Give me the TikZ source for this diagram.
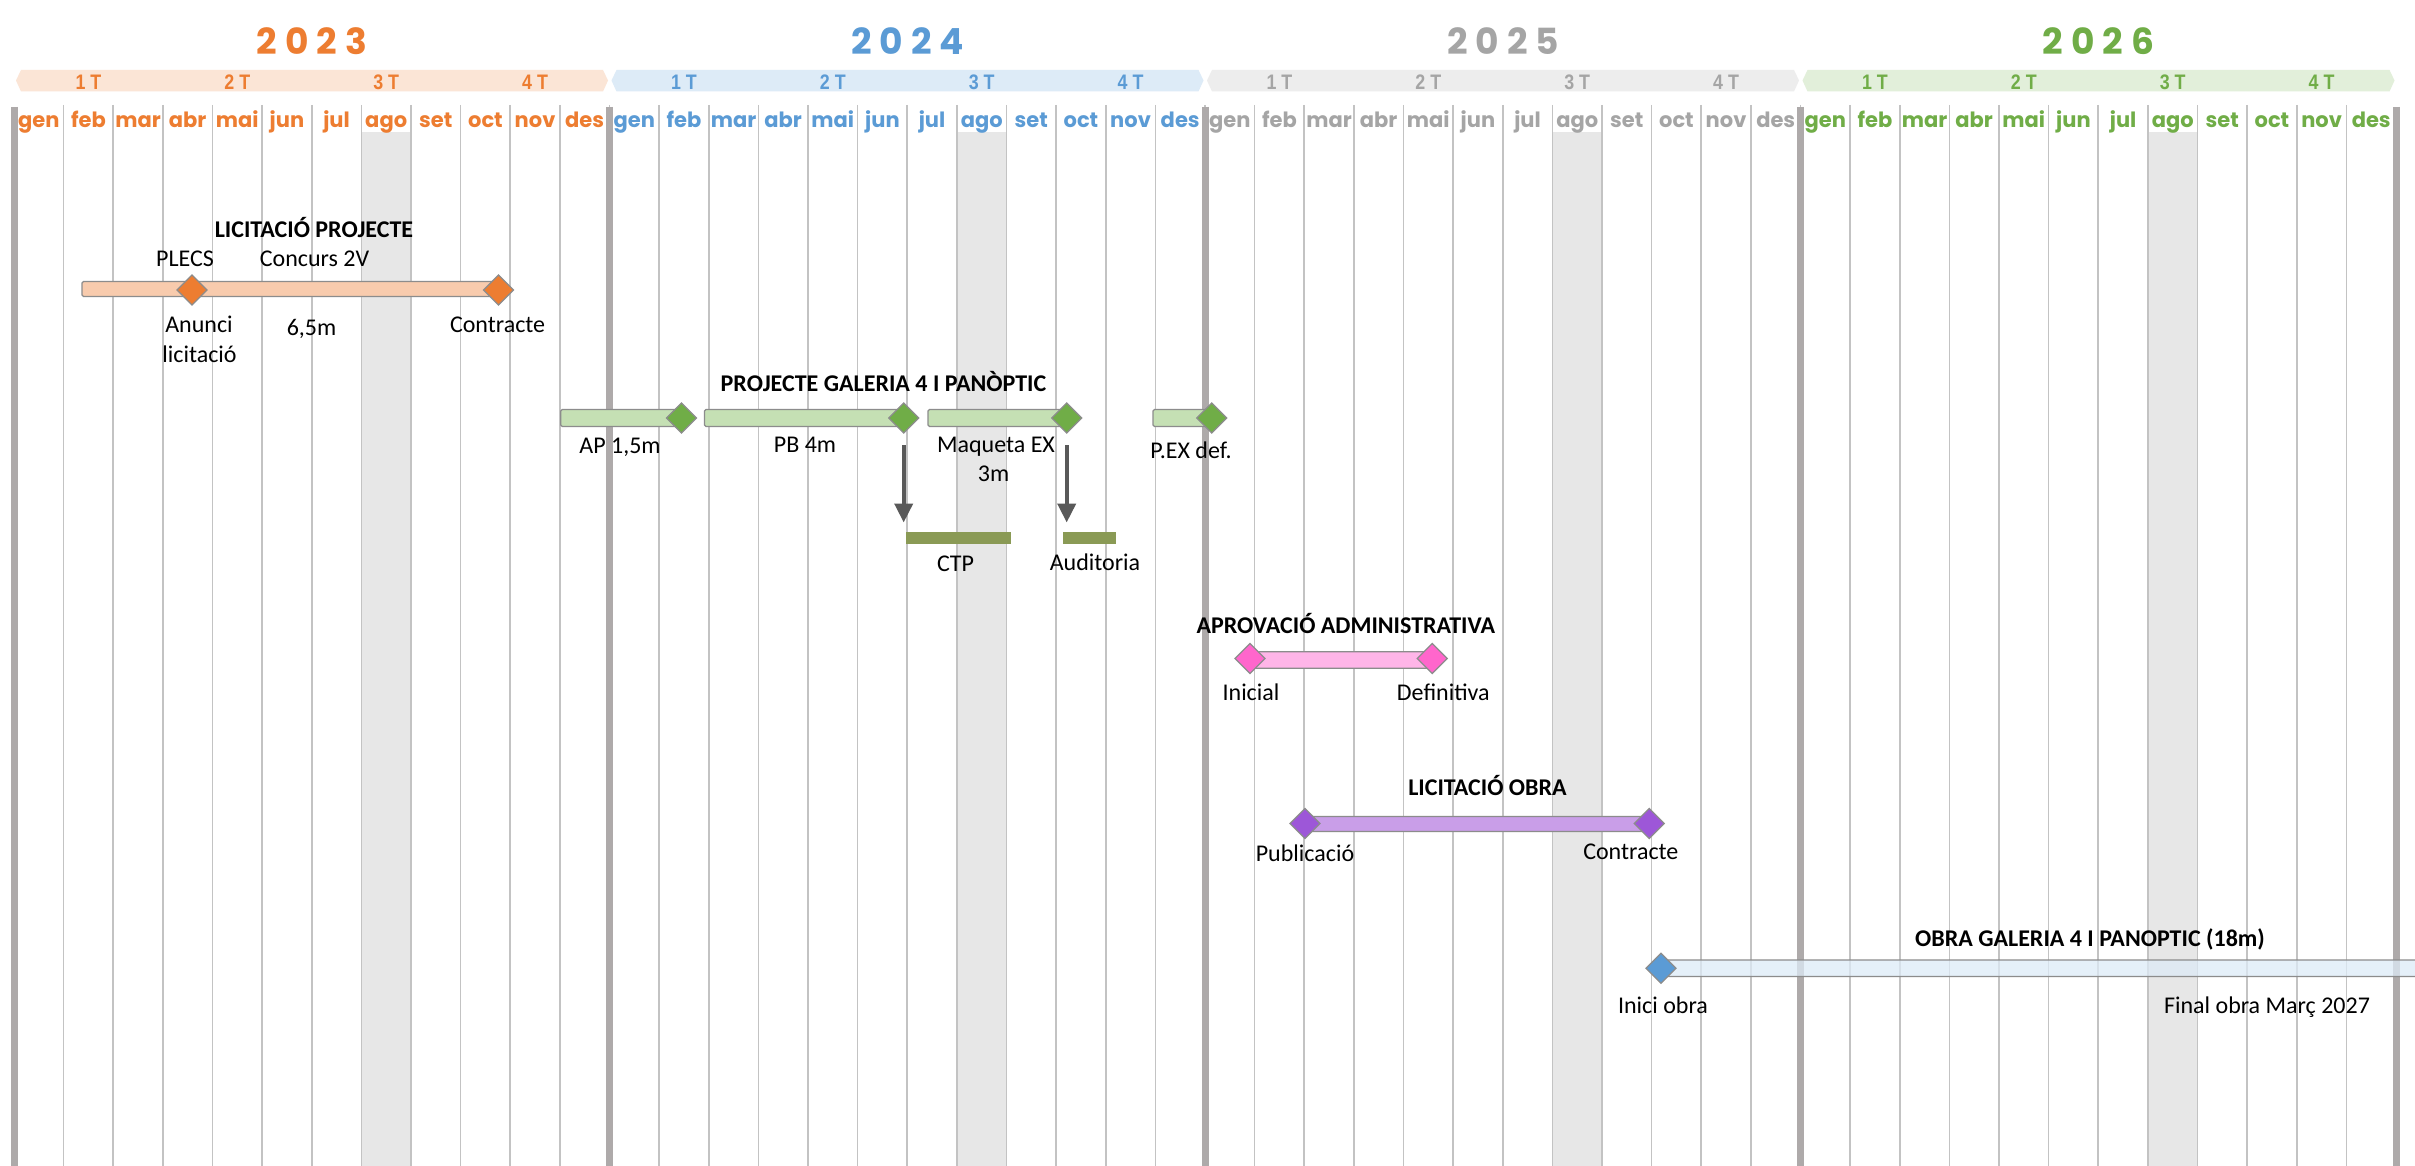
\documentclass[tikz,border=0pt]{standalone}
\usepackage{fontspec}
\usepackage{graphicx}
\usetikzlibrary{shapes.geometric,arrows.meta}
\setmainfont{Carlito}
\newfontfamily\popfont{Poppins}
\newfontfamily\qfont{Liberation Sans}
\definecolor{cOr}{HTML}{ED7D31}
\definecolor{cOrL}{HTML}{FBE5D6}
\definecolor{cBl}{HTML}{5B9BD5}
\definecolor{cBlL}{HTML}{DDEBF7}
\definecolor{cGy}{HTML}{A5A5A5}
\definecolor{cGyL}{HTML}{EDEDED}
\definecolor{cGr}{HTML}{70AD47}
\definecolor{cGrL}{HTML}{E2EFDA}
\definecolor{gridthinc}{HTML}{C3C3C3}
\definecolor{gridthickc}{HTML}{AEAAAA}
\definecolor{cShade}{HTML}{E7E7E7}
\definecolor{barOr}{HTML}{F8CBAD}
\definecolor{barGr}{HTML}{C5E0B4}
\definecolor{barPk}{HTML}{FFB5E8}
\definecolor{dPk}{HTML}{FF66CC}
\definecolor{barPu}{HTML}{C99EE8}
\definecolor{dPu}{HTML}{9D57D8}
\definecolor{cOlive}{HTML}{8A9A55}
\definecolor{bord}{HTML}{8C8C8C}
\definecolor{arrc}{HTML}{595959}
\begin{document}
\begin{tikzpicture}[x=1pt,y=-1pt,
  barbox/.style={draw=bord,line width=1.2pt,rounded corners=1.5pt,inner sep=0pt,outer sep=0pt,anchor=west,minimum height=16pt},
  ms/.style={diamond,draw=bord,line width=1.2pt,inner sep=0pt,outer sep=0pt,minimum width=30pt,minimum height=30pt},
  lbl/.style={font=\fontsize{24}{29}\selectfont,inner sep=0pt,anchor=base,text=black},
  ttl/.style={lbl,font=\fontsize{24}{29}\selectfont\bfseries},
  mon/.style={font=\popfont\bfseries\fontsize{21}{24}\selectfont,inner sep=0pt,anchor=base},
  qtr/.style={font=\qfont\bfseries\fontsize{21}{24}\selectfont,inner sep=0pt,anchor=base},
  yrs/.style={font=\popfont\bfseries\fontsize{36}{40}\selectfont,inner sep=0pt},
  task/.style={fill=cOlive,inner sep=0pt,outer sep=0pt,anchor=west,minimum height=12pt},
  arr/.style={draw=arrc,line width=4pt,-{Triangle[width=18pt,length=19pt]}},
  gthin/.style={draw=gridthinc,line width=1.7pt},
  gthick/.style={draw=gridthickc,line width=7pt},
]
\useasboundingbox[fill=white] (0,0) rectangle (2415,1166);

% august shading
\foreach \yr in {0,1,2,3}{
  \pgfmathsetmacro{\ys}{14+595.5*\yr}
  \fill[cShade] (\ys+347.375,132) rectangle (\ys+397,1166);
}
% grid lines
\foreach \i in {1,...,47}{
  \draw[gthin] ({14+49.625*\i},105) -- ({14+49.625*\i},1166);
}
\foreach \i in {0,12,24,36,48}{
  \draw[gthick] ({14+49.625*\i},107) -- ({14+49.625*\i},1166);
}

% header
\foreach \yr/\col/\lt in {0/cOr/cOrL,1/cBl/cBlL,2/cGy/cGyL,3/cGr/cGrL}{
  \pgfmathsetmacro{\ys}{14+595.5*\yr}
  \fill[\lt] (\ys+2,80.5) -- (\ys+7,70) -- (\ys+589,70) -- (\ys+594,80.5) -- (\ys+589,91.5) -- (\ys+7,91.5) -- cycle;
  \foreach \q in {1,2,3,4}{
    \node[qtr,text=\col] (q\yr-\q) at ({\ys+74.4+148.875*(\q-1)},90) {\scalebox{0.85}[1]{\q\ T}};
  }
  \foreach \m [count=\k from 0] in {gen,feb,mar,abr,mai,jun,jul,ago,set,oct,nov,des}{
    \node[mon,text=\col] (m\yr-\k) at ({\ys+49.625*(\k+0.5)},128) {\m};
  }
}
\node[yrs,text=cOr] (y23) at (312,41) {2\kern8pt0\kern8pt2\kern8pt3};
\node[yrs,text=cBl] (y24) at (907.5,41) {2\kern8pt0\kern8pt2\kern8pt4};
\node[yrs,text=cGy] (y25) at (1503,41) {2\kern8pt0\kern8pt2\kern8pt5};
\node[yrs,text=cGr] (y26) at (2098.5,41) {2\kern8pt0\kern8pt2\kern8pt6};

% LICITACIO PROJECTE
\node[barbox,fill=barOr,minimum width=417pt,minimum height=15pt] (lpbar) at (82,289) {};
\node[ms,fill=cOr] (lpd1) at (192,290) {};
\node[ms,fill=cOr] (lpd2) at (498.5,290) {};
\node[ttl] (lpt) at (314,238) {LICITACIÓ PROJECTE};
\node[lbl] (lpa) at (185,266.5) {PLECS};
\node[lbl] (lpb) at (314.5,266.5) {Concurs 2V};
\node[lbl] (lpc) at (199,333) {Anunci};
\node[lbl] (lpd) at (199.5,362) {licitació};
\node[lbl] (lpe) at (311.5,336) {6,5m};
\node[lbl] (lpf) at (497.6,333) {Contracte};

% PROJECTE GALERIA
\node[ttl] (pgt) at (883.5,391.7) {PROJECTE GALERIA 4 I PANÒPTIC};
\node[barbox,fill=barGr,minimum width=120.7pt,minimum height=17pt] (apbar) at (560.7,418) {};
\node[ms,fill=cGr] (apd) at (681.4,418) {};
\node[barbox,fill=barGr,minimum width=199.3pt,minimum height=17pt] (pbbar) at (704.4,418) {};
\node[ms,fill=cGr] (pbd) at (903.7,418) {};
\node[barbox,fill=barGr,minimum width=138.7pt,minimum height=17pt] (mqbar) at (928,418) {};
\node[ms,fill=cGr] (mqd) at (1066.7,418) {};
\node[barbox,fill=barGr,minimum width=58.8pt,minimum height=17pt] (pxbar) at (1153,418) {};
\node[ms,fill=cGr] (pxd) at (1211.8,418) {};
\node[lbl] (pg1) at (620,453.5) {AP 1,5m};
\node[lbl] (pg2) at (805,452) {PB 4m};
\node[lbl] (pg3) at (996,452) {Maqueta EX};
\node[lbl] (pg4) at (993.5,481) {3m};
\node[lbl] (pg5) at (1191,458) {P.EX def.};
\node[task,minimum width=104.7pt] (ctp) at (906,537.5) {};
\node[task,minimum width=53.7pt] (aud) at (1062.6,537.5) {};
\node[lbl] (ctpl) at (955.6,571.7) {CTP};
\node[lbl] (audl) at (1095,570) {Auditoria};
\coordinate (a1e) at (pbd.south |- ctp.north);
\coordinate (a2e) at (mqd.south |- aud.north);
\draw[arr] ([yshift=-12pt]pbd.south) -- ([yshift=9pt]a1e);
\draw[arr] ([yshift=-12pt]mqd.south) -- ([yshift=9pt]a2e);

% APROVACIO ADMINISTRATIVA
\node[ttl] (aat) at (1345.8,633) {APROVACIÓ ADMINISTRATIVA};
\node[barbox,fill=barPk,minimum width=182.3pt,minimum height=16.5pt] (aabar) at (1250,660) {};
\node[ms,fill=dPk] (aad1) at (1250,658.5) {};
\node[ms,fill=dPk] (aad2) at (1432.3,658.5) {};
\node[lbl] (aa1) at (1251,700) {Inicial};
\node[lbl] (aa2) at (1443.3,700) {Definitiva};

% LICITACIO OBRA
\node[ttl] (lot) at (1487.5,795) {LICITACIÓ OBRA};
\node[barbox,fill=barPu,minimum width=344.3pt,minimum height=15pt] (lobar) at (1305,824) {};
\node[ms,fill=dPu] (lod1) at (1305,823.5) {};
\node[ms,fill=dPu] (lod2) at (1649.3,823.5) {};
\node[lbl] (lo1) at (1305,861.5) {Publicació};
\node[lbl] (lo2) at (1630.8,859) {Contracte};

% OBRA
\node[ttl] (obt) at (2090,946.7) {OBRA GALERIA 4 I PANOPTIC (18m)};
\node[barbox,fill=cBlL,fill opacity=0.75,minimum width=780pt,minimum height=16.5pt] (obbar) at (1661,968.3) {};
\node[ms,fill=cBl] (obd) at (1661,968.3) {};
\node[lbl] (ob1) at (1663,1013) {Inici obra};
\node[lbl] (ob2) at (2267,1013) {Final obra Març 2027};
\end{tikzpicture}
\end{document}
